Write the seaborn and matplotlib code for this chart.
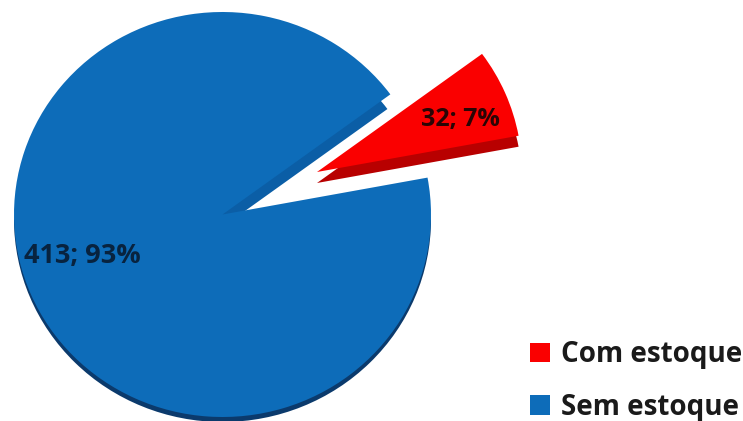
import matplotlib
matplotlib.use("Agg")
import matplotlib.pyplot as plt
from matplotlib.patches import Patch
import seaborn as sns

categories = ["Com estoque", "Sem estoque"]
values = [32, 413]
percents = [7, 93]
face_colors = ["#fa0000", "#0d6cb9"]
side_colors = ["#b80000", "#0b3a6c"]
wall_blue = "#0b5ea6"

sns.set_theme(style="white")
plt.rcParams["font.family"] = ["Open Sans", "DejaVu Sans"]

W, H = 743, 421
SY = 202.5 / 208.5          # pixels per data unit vertically (flattened pie)
fig = plt.figure(figsize=(W / 100, H / 100), dpi=100)
ax = fig.add_axes([0, 0, 1, 1])


def y_of(px):
    return (H - px) / SY


START = 10.5


def draw(colors, cx, cy, r, z):
    wedges, _ = ax.pie(values, colors=colors, startangle=START, radius=r,
                       center=(cx, y_of(cy)), frame=False,
                       wedgeprops=dict(linewidth=0, zorder=z))
    return wedges


# Blue slice: rim (lower half only), inner wall (upper part only), top face
rim = draw(["none", side_colors[1]], 222.5, 219.5, 208.5, 1)
rim[1].set_theta1(180)
rim[1].set_theta2(360)
wall = draw(["none", wall_blue], 224, 226, 203, 2)
wall[1].set_theta2(120)
draw(["none", face_colors[1]], 222.5, 214.5, 208.5, 3)

# Red slice pulled out: side, top face
draw([side_colors[0], "none"], 317, 183, 205, 4)
draw([face_colors[0], "none"], 317, 172, 205, 5)

ax.set_aspect("auto")
ax.set_xlim(0, W)
ax.set_ylim(0, H / SY)
ax.axis("off")

ax.text(460, y_of(119), f"{values[0]}; {percents[0]}%", ha="center", va="center",
        fontsize=18, fontweight="bold", color="#2a0505", zorder=6)
ax.text(82, y_of(256), f"{values[1]}; {percents[1]}%", ha="center", va="center",
        fontsize=19.5, fontweight="bold", color="#08233f", zorder=6)

handles = [Patch(facecolor=c, edgecolor="none") for c in face_colors]
leg = fig.legend(handles, categories, loc="lower left",
                 bbox_to_anchor=(530 / W, -1 / H), frameon=False,
                 fontsize=20, handlelength=0.72, handleheight=0.72,
                 handletextpad=0.4, labelspacing=0.86,
                 borderpad=0, borderaxespad=0)
for t in leg.get_texts():
    t.set_fontweight("bold")
    t.set_color("#1a1a1a")

fig.savefig("out.png", dpi=100)
